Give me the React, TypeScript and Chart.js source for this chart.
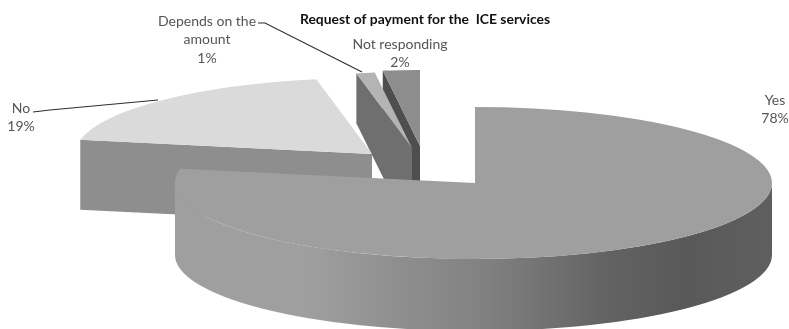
import React, { useEffect, useRef } from "react";
import { Chart, registerables } from "chart.js";

Chart.register(...registerables);

const categories = ["Yes", "No", "Depends on the amount", "Not responding"];
const shares = [78, 19, 1, 2];
const chartTitle = "Request of payment for the  ICE services";

// Top face, side wall colours and pull-out placement for each slice.
const topColors = ["#9f9f9f", "#dadada", "#b4b4b4", "#8d8d8d"];
const wallColors = ["#808080", "#8e8e8e", "#6f6f6f", "#4e4e4e"];
const placement = [
  { cx: 475, cy: 183, rimDepth: 72, apexDepth: 72 },
  { cx: 372, cy: 154, rimDepth: 70, apexDepth: 70 },
  { cx: 412, cy: 148, rimDepth: 50, apexDepth: 88 },
  { cx: 420, cy: 146, rimDepth: 50, apexDepth: 88 },
];
const RX = 297;
const RX_NEAR_LEFT = 300; // the large slice flares out a little on its left half
const RY = 76;
const backToFront = [3, 2, 1, 0];

const labelLines = [
  { lines: ["Yes", "78%"], x: 775, y: 100 },
  { lines: ["No", "19%"], x: 21, y: 108 },
  { lines: ["Depends on the", "amount", "1%"], x: 207, y: 21 },
  { lines: ["Not responding", "2%"], x: 400, y: 44 },
];
const leaders = [
  [[33, 112], [50, 110], [158, 100]],
  [[258, 23], [265, 23], [362, 72]],
];

const wallShade: [number, string][] = [
  [0, "#9f9f9f"],
  [0.22, "#9f9f9f"],
  [0.37, "#8f8f8f"],
  [0.5, "#838383"],
  [0.6, "#757575"],
  [0.72, "#636363"],
  [0.85, "#595959"],
  [1, "#5f5f5f"],
];

const drawTop = (ctx: CanvasRenderingContext2D, arc: any, cx: number, cy: number, rx: number) => {
  ctx.save();
  ctx.translate(cx, cy);
  ctx.scale(rx / arc.outerRadius, RY / arc.outerRadius);
  ctx.translate(-arc.x, -arc.y);
  arc.draw(ctx);
  ctx.restore();
};

const pie3d = {
  id: "pie3d",
  beforeDatasetsDraw(chart: any) {
    const ctx: CanvasRenderingContext2D = chart.ctx;
    const arcs = chart.getDatasetMeta(0).data;

    for (const i of backToFront) {
      const arc = arcs[i];
      const { cx, cy, rimDepth, apexDepth } = placement[i];

      if (i === 0) {
        // Outer wall of the large slice, shaded from left to right.
        const shade = ctx.createLinearGradient(cx - RX_NEAR_LEFT, 0, cx + RX, 0);
        wallShade.forEach(([at, colour]) => shade.addColorStop(at, colour));
        ctx.fillStyle = shade;
        ctx.beginPath();
        ctx.ellipse(cx, cy, RX, RY, 0, 0, Math.PI / 2);
        ctx.ellipse(cx, cy, RX_NEAR_LEFT, RY, 0, Math.PI / 2, Math.PI);
        ctx.ellipse(cx, cy + rimDepth, RX_NEAR_LEFT, RY, 0, Math.PI, Math.PI / 2, true);
        ctx.ellipse(cx, cy + rimDepth, RX, RY, 0, Math.PI / 2, 0, true);
        ctx.closePath();
        ctx.fill();

        // Top face in two halves, split on the vertical through the centre.
        const { width, height } = chart;
        ctx.save();
        ctx.beginPath();
        ctx.rect(0, 0, cx, height);
        ctx.clip();
        drawTop(ctx, arc, cx, cy, RX_NEAR_LEFT);
        ctx.restore();
        ctx.save();
        ctx.beginPath();
        ctx.rect(cx - 0.5, 0, width - cx + 0.5, height);
        ctx.clip();
        drawTop(ctx, arc, cx, cy, RX);
        ctx.restore();
      } else {
        // Cut face on the slice's leading edge, seen from the front.
        const ex = cx + RX * Math.cos(arc.startAngle);
        const ey = cy + RY * Math.sin(arc.startAngle);
        ctx.fillStyle = wallColors[i];
        ctx.beginPath();
        ctx.moveTo(ex, ey);
        ctx.lineTo(cx, cy);
        ctx.lineTo(cx, cy + apexDepth);
        ctx.lineTo(ex, ey + rimDepth);
        ctx.closePath();
        ctx.fill();

        // Top face: the library's own arc, squashed into an ellipse.
        drawTop(ctx, arc, cx, cy, RX);
      }
    }

    ctx.save();
    ctx.strokeStyle = "#2f2f2f";
    ctx.lineWidth = 1.2;
    for (const path of leaders) {
      ctx.beginPath();
      path.forEach(([x, y], k) => (k ? ctx.lineTo(x, y) : ctx.moveTo(x, y)));
      ctx.stroke();
    }
    ctx.textAlign = "center";
    ctx.textBaseline = "middle";
    ctx.fillStyle = "#555555";
    ctx.font = "14px Lato";
    labelLines.forEach(({ lines, x, y }) => {
      lines.forEach((line, k) => ctx.fillText(line, x, y + k * 18.5));
    });
    ctx.fillStyle = "#111111";
    ctx.font = "bold 13.9px Lato";
    ctx.fillText(chartTitle, 425, 20);
    ctx.restore();
    return false;
  },
};

export default function App() {
  const ref = useRef<HTMLCanvasElement>(null);
  useEffect(() => {
    const chart = new Chart(ref.current!, {
      type: "pie",
      data: {
        labels: categories,
        datasets: [{ data: shares, backgroundColor: topColors, borderWidth: 0 }],
      },
      options: {
        animation: false,
        responsive: false,
        plugins: { legend: { display: false }, tooltip: { enabled: false } },
      },
      plugins: [pie3d],
    });
    return () => chart.destroy();
  }, []);
  return (
    <canvas
      ref={ref}
      width={789}
      height={329}
      style={{ position: "absolute", left: 0, top: 0, width: 789, height: 329 }}
    />
  );
}
